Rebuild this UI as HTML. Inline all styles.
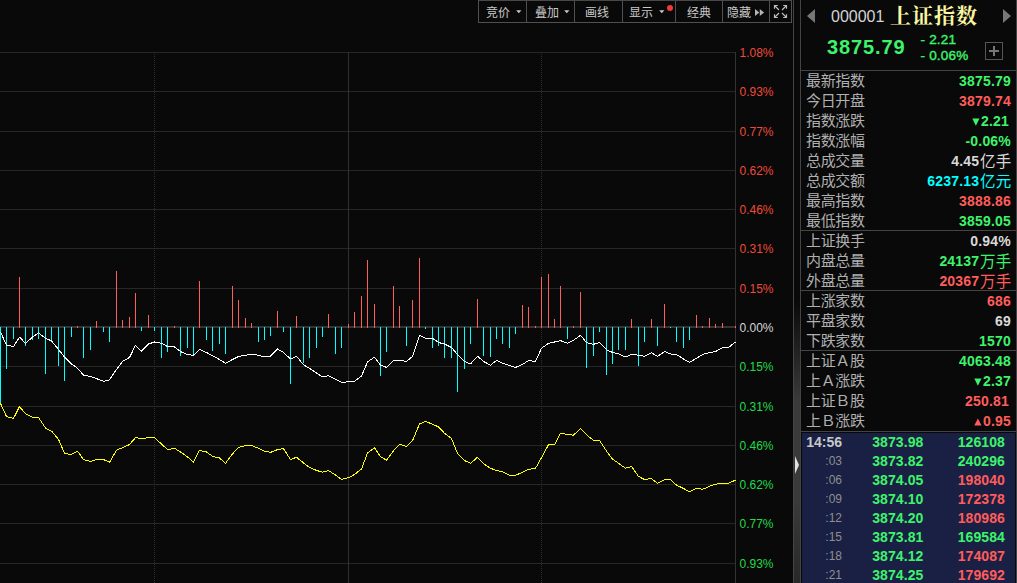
<!DOCTYPE html>
<html lang="zh-CN">
<head>
<meta charset="utf-8">
<title>上证指数</title>
<style>
*{margin:0;padding:0;box-sizing:border-box}
html,body{width:1017px;height:583px;overflow:hidden;background:#090909}
body{position:relative;font-family:"Liberation Sans",sans-serif;color:#ccc}
.chart{position:absolute;left:0;top:0}
.ax{position:absolute;left:739.5px;width:40px;height:14px;line-height:14px;font-size:12px;white-space:nowrap}
.tb{position:absolute;left:478px;top:0;width:314px;height:23px;border:1px solid #505050;border-top-color:#484848}
.tb .b{position:absolute;top:0;height:21px;border-right:1px solid #505050;font-size:12px;line-height:21px;color:#c6c6c6;white-space:nowrap;overflow:hidden}
.tb .b span{position:absolute;top:5px;line-height:0}
.cj{display:block;overflow:visible}
.cj text{font-family:"Liberation Sans","Noto Sans CJK SC",sans-serif;font-weight:normal}
.dn{position:absolute;top:9px}
.dot{position:absolute;left:44px;top:4px;width:6px;height:6px;border-radius:50%;background:#f23838}
.split{position:absolute;left:793px;top:0;width:8px;height:583px;border-left:1px solid #444;border-right:1px solid #444;
  background:linear-gradient(to bottom,rgba(60,60,60,0) 0,rgba(60,60,60,0) 300px,rgba(58,58,58,1) 400px,rgba(58,58,58,1) 500px,rgba(40,40,40,1) 583px)}
.rp{position:absolute;left:801px;top:0;width:216px;height:583px}
.rb{position:absolute;left:1016px;top:0;width:1px;height:583px;background:#444}
.row{position:absolute;left:0;width:215px;height:20px;line-height:20px;white-space:nowrap}
.row .l{position:absolute;left:5px;top:2px;line-height:0}
.row .v{position:absolute;right:5px;top:0;font-size:14px;font-weight:bold;letter-spacing:0.2px}
.row .v .u{display:inline-block;vertical-align:-5.5px;margin-left:0.5px}
.g{color:#3ef36c} .r{color:#ff5c5c} .w{color:#d8d8d8} .c{color:#00ffff}
.hl{position:absolute;left:0;width:215px;height:1px;background:#444}
.tri{display:inline-block;margin-right:0.5px;vertical-align:0px}
.tick{position:absolute;left:1px;top:433px;width:213px;height:150px;background:#192043}
.tr{position:absolute;left:0;width:215px;height:18px;line-height:18px;white-space:nowrap;font-weight:bold;font-size:14px}
.tr .t0{position:absolute;right:174px;color:#c8c8c8}
.tr .t1{position:absolute;right:174px;color:#8f8f8f;font-weight:normal;font-size:12px}
.tr .p{position:absolute;right:92.5px;letter-spacing:0.1px}
.tr .q{position:absolute;right:11px;letter-spacing:0.1px}
.hd1{position:absolute;left:30px;top:8px;font-size:16px;line-height:18px;color:#d4d4d4}
.hd2{position:absolute;left:89px;top:5px;line-height:0}
.hd3{position:absolute;left:26px;top:36px;font-size:20px;line-height:22px;font-weight:bold;color:#3ef36c;letter-spacing:0.9px}
.hd4{position:absolute;left:119.5px;font-size:13.5px;line-height:14px;font-weight:normal;-webkit-text-stroke:0.4px #3ef36c;color:#3ef36c;white-space:pre;letter-spacing:0.2px}
.plus{position:absolute;left:184px;top:42px;width:18px;height:18px;border:1px solid #555}
.plus:before{content:"";position:absolute;left:3px;top:7px;width:10px;height:2px;background:#777}
.plus:after{content:"";position:absolute;left:7px;top:3px;width:2px;height:10px;background:#777}
.arl{position:absolute;left:6px;top:9px;width:0;height:0;border-top:7.5px solid transparent;border-bottom:7.5px solid transparent;border-right:8px solid #777}
.arr{position:absolute;left:202px;top:9px;width:0;height:0;border-top:7.5px solid transparent;border-bottom:7.5px solid transparent;border-left:8px solid #777}
.handle{position:absolute;left:795px;top:456px;width:0;height:0;border-top:9.5px solid transparent;border-bottom:9.5px solid transparent;border-left:4.5px solid #e2e2e2}
</style>
</head>
<body>

<svg class="chart" width="800" height="583" viewBox="0 0 800 583" shape-rendering="crispEdges">
<rect x="0" y="52" width="736" height="1" fill="#272727"/>
<rect x="0" y="91" width="736" height="1" fill="#272727"/>
<rect x="0" y="131" width="736" height="1" fill="#272727"/>
<rect x="0" y="170" width="736" height="1" fill="#272727"/>
<rect x="0" y="209" width="736" height="1" fill="#272727"/>
<rect x="0" y="248" width="736" height="1" fill="#272727"/>
<rect x="0" y="288" width="736" height="1" fill="#272727"/>
<rect x="0" y="326" width="736" height="2" fill="#343434"/>
<rect x="0" y="366" width="736" height="1" fill="#272727"/>
<rect x="0" y="406" width="736" height="1" fill="#272727"/>
<rect x="0" y="445" width="736" height="1" fill="#272727"/>
<rect x="0" y="484" width="736" height="1" fill="#272727"/>
<rect x="0" y="523" width="736" height="1" fill="#272727"/>
<rect x="0" y="563" width="736" height="1" fill="#272727"/>
<rect x="348" y="52" width="1" height="531" fill="#303030"/>
<line x1="154.5" y1="52" x2="154.5" y2="583" stroke="#2e2e2e" stroke-width="1" stroke-dasharray="1 1"/>
<line x1="541.5" y1="52" x2="541.5" y2="583" stroke="#2e2e2e" stroke-width="1" stroke-dasharray="1 1"/>
<rect x="735" y="52" width="1" height="531" fill="#333333"/>
<rect x="0" y="327" width="1" height="76" fill="#00ffff"/>
<rect x="6" y="327" width="1" height="42" fill="#00ffff"/>
<rect x="13" y="327" width="1" height="12" fill="#00ffff"/>
<rect x="19" y="277" width="1" height="51" fill="#ff5c5c"/>
<rect x="25" y="327" width="1" height="19" fill="#00ffff"/>
<rect x="32" y="327" width="1" height="13" fill="#00ffff"/>
<rect x="38" y="327" width="1" height="12" fill="#00ffff"/>
<rect x="45" y="327" width="1" height="47" fill="#00ffff"/>
<rect x="51" y="327" width="1" height="14" fill="#00ffff"/>
<rect x="58" y="327" width="1" height="39" fill="#00ffff"/>
<rect x="64" y="327" width="1" height="54" fill="#00ffff"/>
<rect x="71" y="327" width="1" height="10" fill="#00ffff"/>
<rect x="77" y="326" width="1" height="2" fill="#ff5c5c"/>
<rect x="83" y="327" width="1" height="31" fill="#00ffff"/>
<rect x="90" y="327" width="1" height="23" fill="#00ffff"/>
<rect x="96" y="321" width="1" height="7" fill="#ff5c5c"/>
<rect x="103" y="327" width="1" height="5" fill="#00ffff"/>
<rect x="109" y="327" width="1" height="15" fill="#00ffff"/>
<rect x="116" y="271" width="1" height="57" fill="#ff5c5c"/>
<rect x="122" y="320" width="1" height="8" fill="#ff5c5c"/>
<rect x="129" y="317" width="1" height="11" fill="#ff5c5c"/>
<rect x="135" y="293" width="1" height="35" fill="#ff5c5c"/>
<rect x="141" y="327" width="1" height="4" fill="#00ffff"/>
<rect x="148" y="315" width="1" height="13" fill="#ff5c5c"/>
<rect x="154" y="327" width="1" height="4" fill="#00ffff"/>
<rect x="161" y="327" width="1" height="31" fill="#00ffff"/>
<rect x="167" y="327" width="1" height="25" fill="#00ffff"/>
<rect x="174" y="326" width="1" height="2" fill="#ff5c5c"/>
<rect x="180" y="327" width="1" height="29" fill="#00ffff"/>
<rect x="187" y="327" width="1" height="21" fill="#00ffff"/>
<rect x="193" y="327" width="1" height="27" fill="#00ffff"/>
<rect x="199" y="281" width="1" height="47" fill="#ff5c5c"/>
<rect x="206" y="327" width="1" height="13" fill="#00ffff"/>
<rect x="212" y="327" width="1" height="24" fill="#00ffff"/>
<rect x="219" y="327" width="1" height="17" fill="#00ffff"/>
<rect x="225" y="327" width="1" height="27" fill="#00ffff"/>
<rect x="232" y="286" width="1" height="42" fill="#ff5c5c"/>
<rect x="238" y="300" width="1" height="28" fill="#ff5c5c"/>
<rect x="245" y="318" width="1" height="10" fill="#ff5c5c"/>
<rect x="251" y="323" width="1" height="5" fill="#ff5c5c"/>
<rect x="258" y="327" width="1" height="15" fill="#00ffff"/>
<rect x="264" y="327" width="1" height="13" fill="#00ffff"/>
<rect x="270" y="327" width="1" height="9" fill="#00ffff"/>
<rect x="277" y="311" width="1" height="17" fill="#ff5c5c"/>
<rect x="283" y="327" width="1" height="5" fill="#00ffff"/>
<rect x="290" y="327" width="1" height="57" fill="#00ffff"/>
<rect x="296" y="316" width="1" height="12" fill="#ff5c5c"/>
<rect x="303" y="327" width="1" height="36" fill="#00ffff"/>
<rect x="309" y="327" width="1" height="31" fill="#00ffff"/>
<rect x="316" y="327" width="1" height="21" fill="#00ffff"/>
<rect x="322" y="327" width="1" height="10" fill="#00ffff"/>
<rect x="328" y="314" width="1" height="14" fill="#ff5c5c"/>
<rect x="335" y="327" width="1" height="27" fill="#00ffff"/>
<rect x="341" y="327" width="1" height="21" fill="#00ffff"/>
<rect x="348" y="324" width="1" height="4" fill="#ff5c5c"/>
<rect x="354" y="312" width="1" height="16" fill="#ff5c5c"/>
<rect x="361" y="296" width="1" height="32" fill="#ff5c5c"/>
<rect x="367" y="260" width="1" height="68" fill="#ff5c5c"/>
<rect x="374" y="304" width="1" height="24" fill="#ff5c5c"/>
<rect x="380" y="327" width="1" height="49" fill="#00ffff"/>
<rect x="386" y="327" width="1" height="25" fill="#00ffff"/>
<rect x="393" y="286" width="1" height="42" fill="#ff5c5c"/>
<rect x="399" y="306" width="1" height="22" fill="#ff5c5c"/>
<rect x="406" y="327" width="1" height="19" fill="#00ffff"/>
<rect x="412" y="300" width="1" height="28" fill="#ff5c5c"/>
<rect x="419" y="258" width="1" height="70" fill="#ff5c5c"/>
<rect x="425" y="327" width="1" height="2" fill="#00ffff"/>
<rect x="432" y="327" width="1" height="21" fill="#00ffff"/>
<rect x="438" y="327" width="1" height="19" fill="#00ffff"/>
<rect x="444" y="327" width="1" height="31" fill="#00ffff"/>
<rect x="451" y="327" width="1" height="31" fill="#00ffff"/>
<rect x="457" y="327" width="1" height="65" fill="#00ffff"/>
<rect x="464" y="327" width="1" height="42" fill="#00ffff"/>
<rect x="470" y="327" width="1" height="17" fill="#00ffff"/>
<rect x="477" y="299" width="1" height="29" fill="#ff5c5c"/>
<rect x="483" y="327" width="1" height="29" fill="#00ffff"/>
<rect x="490" y="327" width="1" height="30" fill="#00ffff"/>
<rect x="496" y="327" width="1" height="12" fill="#00ffff"/>
<rect x="502" y="327" width="1" height="17" fill="#00ffff"/>
<rect x="509" y="327" width="1" height="21" fill="#00ffff"/>
<rect x="515" y="327" width="1" height="7" fill="#00ffff"/>
<rect x="522" y="305" width="1" height="23" fill="#ff5c5c"/>
<rect x="528" y="307" width="1" height="21" fill="#ff5c5c"/>
<rect x="535" y="326" width="1" height="2" fill="#ff5c5c"/>
<rect x="541" y="277" width="1" height="51" fill="#ff5c5c"/>
<rect x="548" y="274" width="1" height="54" fill="#ff5c5c"/>
<rect x="554" y="319" width="1" height="9" fill="#ff5c5c"/>
<rect x="560" y="286" width="1" height="42" fill="#ff5c5c"/>
<rect x="567" y="327" width="1" height="12" fill="#00ffff"/>
<rect x="573" y="326" width="1" height="2" fill="#ff5c5c"/>
<rect x="580" y="292" width="1" height="36" fill="#ff5c5c"/>
<rect x="586" y="327" width="1" height="41" fill="#00ffff"/>
<rect x="593" y="327" width="1" height="29" fill="#00ffff"/>
<rect x="599" y="327" width="1" height="5" fill="#00ffff"/>
<rect x="606" y="327" width="1" height="48" fill="#00ffff"/>
<rect x="612" y="327" width="1" height="37" fill="#00ffff"/>
<rect x="618" y="327" width="1" height="23" fill="#00ffff"/>
<rect x="625" y="327" width="1" height="23" fill="#00ffff"/>
<rect x="631" y="319" width="1" height="9" fill="#ff5c5c"/>
<rect x="638" y="327" width="1" height="39" fill="#00ffff"/>
<rect x="644" y="327" width="1" height="15" fill="#00ffff"/>
<rect x="651" y="319" width="1" height="9" fill="#ff5c5c"/>
<rect x="657" y="327" width="1" height="19" fill="#00ffff"/>
<rect x="664" y="304" width="1" height="24" fill="#ff5c5c"/>
<rect x="670" y="327" width="1" height="1" fill="#00ffff"/>
<rect x="676" y="327" width="1" height="15" fill="#00ffff"/>
<rect x="683" y="327" width="1" height="21" fill="#00ffff"/>
<rect x="689" y="327" width="1" height="13" fill="#00ffff"/>
<rect x="696" y="315" width="1" height="13" fill="#ff5c5c"/>
<rect x="702" y="326" width="1" height="2" fill="#ff5c5c"/>
<rect x="709" y="318" width="1" height="10" fill="#ff5c5c"/>
<rect x="715" y="324" width="1" height="4" fill="#ff5c5c"/>
<rect x="722" y="323" width="1" height="5" fill="#ff5c5c"/>
<rect x="735" y="326" width="1" height="2" fill="#ff5c5c"/>
<polyline points="0.5,403.4 6.5,416.5 13.5,418.4 19.5,406.6 25.5,413.7 32.5,417.1 38.5,417.4 45.5,428.1 51.5,431.1 58.5,439.3 64.5,453.4 71.5,454.5 77.5,451.1 83.5,459.5 90.5,461.4 96.5,459.5 103.5,459.5 109.5,462.3 116.5,450.2 122.5,447.7 129.5,444.6 135.5,437.6 141.5,438.6 148.5,437.6 154.5,437.6 161.5,444.0 167.5,449.6 174.5,448.3 180.5,452.0 187.5,456.9 193.5,462.3 199.5,450.4 206.5,452.0 212.5,456.3 219.5,458.0 225.5,463.4 232.5,453.9 238.5,447.4 245.5,445.5 251.5,445.5 258.5,448.3 264.5,451.1 270.5,452.4 277.5,449.6 283.5,448.7 290.5,459.5 296.5,457.3 303.5,462.9 309.5,467.4 316.5,470.4 322.5,472.2 328.5,470.6 335.5,475.0 341.5,479.5 348.5,477.7 354.5,474.5 361.5,469.0 367.5,453.0 374.5,447.7 380.5,456.7 386.5,460.1 393.5,450.7 399.5,444.4 406.5,446.4 412.5,440.8 419.5,424.0 425.5,421.2 432.5,424.4 438.5,426.8 444.5,433.3 451.5,438.6 457.5,453.5 464.5,460.5 470.5,463.4 477.5,457.3 483.5,463.6 490.5,468.3 496.5,470.4 502.5,471.7 509.5,475.4 515.5,475.4 522.5,472.2 528.5,469.4 535.5,468.3 541.5,457.7 548.5,444.6 554.5,444.6 560.5,433.3 567.5,434.3 573.5,435.2 580.5,428.3 586.5,434.8 593.5,440.3 599.5,440.4 606.5,451.1 612.5,459.0 618.5,463.3 625.5,468.3 631.5,466.4 638.5,476.4 644.5,479.5 651.5,478.6 657.5,483.3 664.5,479.7 670.5,479.7 676.5,485.1 683.5,488.5 689.5,491.7 696.5,488.1 702.5,489.4 709.5,486.3 715.5,484.2 722.5,483.3 728.5,483.3 735.5,480.1" fill="none" stroke="#ffff00" stroke-width="1" stroke-linejoin="round" shape-rendering="crispEdges"/>
<polyline points="0.5,332.1 6.5,345.0 13.5,346.5 19.5,337.1 25.5,343.3 32.5,337.1 38.5,332.8 45.5,338.3 51.5,340.8 58.5,349.5 64.5,357.0 71.5,363.9 77.5,368.2 83.5,375.1 90.5,376.4 96.5,378.6 103.5,381.3 109.5,379.8 116.5,369.4 122.5,361.4 129.5,357.5 135.5,345.3 141.5,351.2 148.5,344.0 154.5,342.0 161.5,343.3 167.5,346.5 174.5,347.0 180.5,351.5 187.5,354.8 193.5,355.2 199.5,349.5 206.5,352.5 212.5,355.7 219.5,359.5 225.5,363.2 232.5,359.5 238.5,356.5 245.5,355.2 251.5,354.5 258.5,355.2 264.5,357.0 270.5,356.2 277.5,349.0 283.5,352.5 290.5,359.0 296.5,356.2 303.5,364.9 309.5,368.2 316.5,373.1 322.5,376.9 328.5,375.6 335.5,379.3 341.5,382.3 348.5,381.8 354.5,381.3 361.5,376.1 367.5,361.9 374.5,357.2 380.5,365.2 386.5,367.4 393.5,360.4 399.5,360.4 406.5,361.4 412.5,356.5 419.5,335.1 425.5,338.3 432.5,338.3 438.5,342.5 444.5,344.0 451.5,347.5 457.5,354.5 464.5,361.4 470.5,363.9 477.5,356.2 483.5,361.4 490.5,365.2 496.5,360.4 502.5,363.4 509.5,365.4 515.5,367.4 522.5,364.4 528.5,360.7 535.5,361.4 541.5,348.3 548.5,343.3 554.5,342.0 560.5,340.6 567.5,343.3 573.5,340.3 580.5,335.3 586.5,342.5 593.5,344.3 599.5,342.5 606.5,349.8 612.5,352.5 618.5,353.7 625.5,357.0 631.5,354.5 638.5,355.2 644.5,356.2 651.5,352.7 657.5,356.5 664.5,351.5 670.5,354.0 676.5,354.5 683.5,359.0 689.5,362.4 696.5,358.2 702.5,354.5 709.5,352.7 715.5,351.5 722.5,347.8 728.5,347.5 735.5,342.0" fill="none" stroke="#ffffff" stroke-width="1" stroke-linejoin="round" shape-rendering="crispEdges"/>
</svg>
<div class="ax" style="top:46px;color:#ee4a3a">1.08%</div>
<div class="ax" style="top:85px;color:#ee4a3a">0.93%</div>
<div class="ax" style="top:125px;color:#ee4a3a">0.77%</div>
<div class="ax" style="top:164px;color:#ee4a3a">0.62%</div>
<div class="ax" style="top:203px;color:#ee4a3a">0.46%</div>
<div class="ax" style="top:242px;color:#ee4a3a">0.31%</div>
<div class="ax" style="top:282px;color:#ee4a3a">0.15%</div>
<div class="ax" style="top:321px;color:#d6d6d6">0.00%</div>
<div class="ax" style="top:360px;color:#22d94a">0.15%</div>
<div class="ax" style="top:400px;color:#22d94a">0.31%</div>
<div class="ax" style="top:439px;color:#22d94a">0.46%</div>
<div class="ax" style="top:478px;color:#22d94a">0.62%</div>
<div class="ax" style="top:517px;color:#22d94a">0.77%</div>
<div class="ax" style="top:557px;color:#22d94a">0.93%</div>

<div class="tb">
 <div class="b" style="left:0;width:48px"><span style="left:7px"><svg class="cj" width="24" height="14.4" viewBox="0 0 24 14.4"><text x="0" y="10.56" font-size="12" fill="#c8c8c8">竞价</text></svg></span><svg class="dn" style="left:37.0px" width="6" height="4" viewBox="0 0 6 4"><path d="M0.2 0.3H5.4L2.8 3.2Z" fill="#c8c8c8"/></svg></div>
 <div class="b" style="left:48px;width:48px"><span style="left:8px"><svg class="cj" width="24" height="14.4" viewBox="0 0 24 14.4"><text x="0" y="10.56" font-size="12" fill="#c8c8c8">叠加</text></svg></span><svg class="dn" style="left:37.0px" width="6" height="4" viewBox="0 0 6 4"><path d="M0.2 0.3H5.4L2.8 3.2Z" fill="#c8c8c8"/></svg></div>
 <div class="b" style="left:96px;width:48px"><span style="left:10px"><svg class="cj" width="24" height="14.4" viewBox="0 0 24 14.4"><text x="0" y="10.56" font-size="12" fill="#c8c8c8">画线</text></svg></span></div>
 <div class="b" style="left:144px;width:53px"><span style="left:6px"><svg class="cj" width="24" height="14.4" viewBox="0 0 24 14.4"><text x="0" y="10.56" font-size="12" fill="#c8c8c8">显示</text></svg></span><svg class="dn" style="left:36.0px" width="6" height="4" viewBox="0 0 6 4"><path d="M0.2 0.3H5.4L2.8 3.2Z" fill="#c8c8c8"/></svg><i class="dot"></i></div>
 <div class="b" style="left:197px;width:47px"><span style="left:11px"><svg class="cj" width="24" height="14.4" viewBox="0 0 24 14.4"><text x="0" y="10.56" font-size="12" fill="#c8c8c8">经典</text></svg></span></div>
 <div class="b" style="left:244px;width:47px"><span style="left:4px"><svg class="cj" width="24" height="14.4" viewBox="0 0 24 14.4"><text x="0" y="10.56" font-size="12" fill="#c8c8c8">隐藏</text></svg></span>
   <svg style="position:absolute;left:32px;top:8px" width="10" height="8" viewBox="0 0 10 8"><path d="M0 0 L4.3 3.5 L0 7Z M4.8 0 L9.1 3.5 L4.8 7Z" fill="#b4b4b4"/></svg></div>
 <div class="b" style="left:291px;width:22px;border-right:0">
   <svg style="position:absolute;left:3px;top:4px" width="15" height="14" viewBox="0 0 15 14" fill="none" stroke="#bdbdbd" stroke-width="1.15">
     <path d="M1.5 3.8V0.5H4.8 M1.5 0.5L6 5 M10.2 0.5H13.5V3.8 M13.5 0.5L9 5 M1.5 9.2V12.5H4.8 M1.5 12.5L6 8 M10.2 12.5H13.5V9.2 M13.5 12.5L9 8"/></svg></div>
</div>
<div class="split"></div>
<div class="handle"></div>
<div class="rp">
 <div class="arl"></div>
 <div class="hd1">000001</div>
 <div class="hd2"><svg class="cj" width="87" height="25.2" viewBox="0 0 87 25.2"><text x="0" y="18.48" font-size="21" fill="#faf6a2" letter-spacing="1" style="font-family:'Liberation Serif','Noto Serif CJK SC',serif;font-weight:bold">上证指数</text></svg></div>
 <div class="arr"></div>
 <div class="hd3">3875.79</div>
 <div class="hd4" style="top:33px">- 2.21</div>
 <div class="hd4" style="top:49px">- 0.06%</div>
 <div class="plus"></div>
 <div class="row" style="top:71px"><span class="l"><svg class="cj" width="59.1" height="18" viewBox="0 0 59.1 18"><text x="0" y="13.2" font-size="15" letter-spacing="-0.3" fill="#b0b0b0">最新指数</text></svg></span><span class="v g" style="">3875.79</span></div>
<div class="row" style="top:91px"><span class="l"><svg class="cj" width="59.1" height="18" viewBox="0 0 59.1 18"><text x="0" y="13.2" font-size="15" letter-spacing="-0.3" fill="#b0b0b0">今日开盘</text></svg></span><span class="v r" style="">3879.74</span></div>
<div class="row" style="top:111px"><span class="l"><svg class="cj" width="59.1" height="18" viewBox="0 0 59.1 18"><text x="0" y="13.2" font-size="15" letter-spacing="-0.3" fill="#b0b0b0">指数涨跌</text></svg></span><span class="v g" style=";right:7px"><svg class="tri" width="8" height="8" viewBox="0 0 8 8"><path d="M0.3 0.5H7.5L3.9 7.7Z" fill="#3ef36c"/></svg>2.21</span></div>
<div class="row" style="top:131px"><span class="l"><svg class="cj" width="59.1" height="18" viewBox="0 0 59.1 18"><text x="0" y="13.2" font-size="15" letter-spacing="-0.3" fill="#b0b0b0">指数涨幅</text></svg></span><span class="v g" style="">-0.06%</span></div>
<div class="row" style="top:151px"><span class="l"><svg class="cj" width="59.1" height="18" viewBox="0 0 59.1 18"><text x="0" y="13.2" font-size="15" letter-spacing="-0.3" fill="#b0b0b0">总成交量</text></svg></span><span class="v w" style="">4.45<svg class="cj u" width="31.2" height="18.6" viewBox="0 0 31.2 18.6"><text x="0" y="13.64" font-size="15.5" letter-spacing="0.2" fill="#d8d8d8">亿手</text></svg></span></div>
<div class="row" style="top:171px"><span class="l"><svg class="cj" width="59.1" height="18" viewBox="0 0 59.1 18"><text x="0" y="13.2" font-size="15" letter-spacing="-0.3" fill="#b0b0b0">总成交额</text></svg></span><span class="v c" style="">6237.13<svg class="cj u" width="31.2" height="18.6" viewBox="0 0 31.2 18.6"><text x="0" y="13.64" font-size="15.5" letter-spacing="0.2" fill="#00ffff">亿元</text></svg></span></div>
<div class="row" style="top:191px"><span class="l"><svg class="cj" width="59.1" height="18" viewBox="0 0 59.1 18"><text x="0" y="13.2" font-size="15" letter-spacing="-0.3" fill="#b0b0b0">最高指数</text></svg></span><span class="v r" style="">3888.86</span></div>
<div class="row" style="top:211px"><span class="l"><svg class="cj" width="59.1" height="18" viewBox="0 0 59.1 18"><text x="0" y="13.2" font-size="15" letter-spacing="-0.3" fill="#b0b0b0">最低指数</text></svg></span><span class="v g" style="">3859.05</span></div>
<div class="row" style="top:231px"><span class="l"><svg class="cj" width="59.1" height="18" viewBox="0 0 59.1 18"><text x="0" y="13.2" font-size="15" letter-spacing="-0.3" fill="#b0b0b0">上证换手</text></svg></span><span class="v w" style="">0.94%</span></div>
<div class="row" style="top:251px"><span class="l"><svg class="cj" width="59.1" height="18" viewBox="0 0 59.1 18"><text x="0" y="13.2" font-size="15" letter-spacing="-0.3" fill="#b0b0b0">内盘总量</text></svg></span><span class="v g" style="">24137<svg class="cj u" width="31.2" height="18.6" viewBox="0 0 31.2 18.6"><text x="0" y="13.64" font-size="15.5" letter-spacing="0.2" fill="#3ef36c">万手</text></svg></span></div>
<div class="row" style="top:271px"><span class="l"><svg class="cj" width="59.1" height="18" viewBox="0 0 59.1 18"><text x="0" y="13.2" font-size="15" letter-spacing="-0.3" fill="#b0b0b0">外盘总量</text></svg></span><span class="v r" style="">20367<svg class="cj u" width="31.2" height="18.6" viewBox="0 0 31.2 18.6"><text x="0" y="13.64" font-size="15.5" letter-spacing="0.2" fill="#ff5c5c">万手</text></svg></span></div>
<div class="row" style="top:291px"><span class="l"><svg class="cj" width="59.1" height="18" viewBox="0 0 59.1 18"><text x="0" y="13.2" font-size="15" letter-spacing="-0.3" fill="#b0b0b0">上涨家数</text></svg></span><span class="v r" style="">686</span></div>
<div class="row" style="top:311px"><span class="l"><svg class="cj" width="59.1" height="18" viewBox="0 0 59.1 18"><text x="0" y="13.2" font-size="15" letter-spacing="-0.3" fill="#b0b0b0">平盘家数</text></svg></span><span class="v w" style="">69</span></div>
<div class="row" style="top:331px"><span class="l"><svg class="cj" width="59.1" height="18" viewBox="0 0 59.1 18"><text x="0" y="13.2" font-size="15" letter-spacing="-0.3" fill="#b0b0b0">下跌家数</text></svg></span><span class="v g" style="">1570</span></div>
<div class="row" style="top:351px"><span class="l"><svg class="cj" width="59.1" height="18" viewBox="0 0 59.1 18"><text x="0" y="13.2" font-size="15" letter-spacing="-0.3" fill="#b0b0b0">上证Ａ股</text></svg></span><span class="v g" style="">4063.48</span></div>
<div class="row" style="top:371px"><span class="l"><svg class="cj" width="59.1" height="18" viewBox="0 0 59.1 18"><text x="0" y="13.2" font-size="15" letter-spacing="-0.3" fill="#b0b0b0">上Ａ涨跌</text></svg></span><span class="v g" style=""><svg class="tri" width="8" height="8" viewBox="0 0 8 8"><path d="M0.3 0.5H7.5L3.9 7.7Z" fill="#3ef36c"/></svg>2.37</span></div>
<div class="row" style="top:391px"><span class="l"><svg class="cj" width="59.1" height="18" viewBox="0 0 59.1 18"><text x="0" y="13.2" font-size="15" letter-spacing="-0.3" fill="#b0b0b0">上证Ｂ股</text></svg></span><span class="v r" style=";right:7px">250.81</span></div>
<div class="row" style="top:411px"><span class="l"><svg class="cj" width="59.1" height="18" viewBox="0 0 59.1 18"><text x="0" y="13.2" font-size="15" letter-spacing="-0.3" fill="#b0b0b0">上Ｂ涨跌</text></svg></span><span class="v r" style=""><svg class="tri" width="8" height="8" viewBox="0 0 8 8"><path d="M0.3 7.5H7.5L3.9 0.5Z" fill="#ff5c5c"/></svg>0.95</span></div>
<div class="hl" style="top:70px"></div>
<div class="hl" style="top:230px"></div>
<div class="hl" style="top:290px"></div>
<div class="hl" style="top:350px"></div>
<div class="hl" style="top:431px"></div>
 <div class="tick"></div>
 <div class="tickrows" style="position:absolute;left:0;top:0">
 <div class="tr" style="top:433px"><span class="t0">14:56</span><span class="p g">3873.98</span><span class="q g">126108</span></div>
<div class="tr" style="top:452px"><span class="t1">:03</span><span class="p g">3873.82</span><span class="q g">240296</span></div>
<div class="tr" style="top:471px"><span class="t1">:06</span><span class="p g">3874.05</span><span class="q r">198040</span></div>
<div class="tr" style="top:490px"><span class="t1">:09</span><span class="p g">3874.10</span><span class="q r">172378</span></div>
<div class="tr" style="top:509px"><span class="t1">:12</span><span class="p g">3874.20</span><span class="q r">180986</span></div>
<div class="tr" style="top:528px"><span class="t1">:15</span><span class="p g">3873.81</span><span class="q g">169584</span></div>
<div class="tr" style="top:547px"><span class="t1">:18</span><span class="p g">3874.12</span><span class="q r">174087</span></div>
<div class="tr" style="top:566px"><span class="t1">:21</span><span class="p g">3874.25</span><span class="q r">179692</span></div>
 </div>
</div>
<div class="rb"></div>
</body>
</html>
